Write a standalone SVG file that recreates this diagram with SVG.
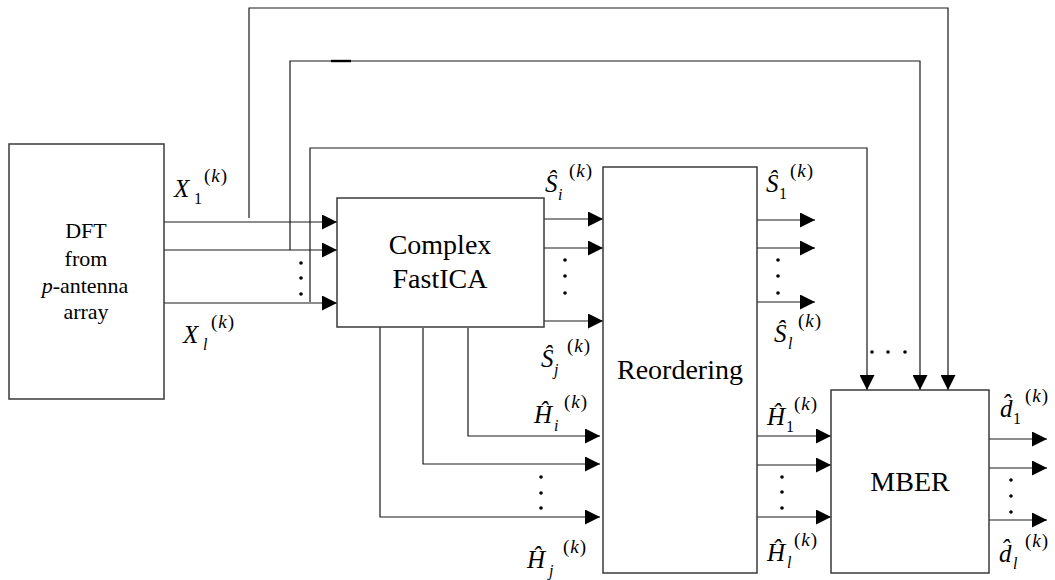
<svg xmlns="http://www.w3.org/2000/svg" width="1055" height="580" viewBox="0 0 1055 580" font-family="'Liberation Serif', 'Times New Roman', 'DejaVu Serif', serif">
<style>
.box{fill:#fff;stroke:#3a3a3a;stroke-width:1.5}
.ln{fill:none;stroke:#1a1a1a;stroke-width:1.2}
.dot{fill:#000}
text{font-family:'Liberation Serif','Times New Roman','DejaVu Serif',serif;fill:#000}
.big{font-size:28px}
.mid{font-size:22px}
.b{font-size:25px;font-style:italic}
.s{font-size:16px}
.p{font-size:19px;letter-spacing:1px}
.it{font-style:italic}
</style>
<defs>
<marker id="ah" markerUnits="userSpaceOnUse" markerWidth="15" markerHeight="15" viewBox="0 0 15 15" refX="15" refY="7.5" orient="auto">
<path d="M0,0 L15,7.5 L0,15 z" fill="#000"/>
</marker>
</defs>

<g id="connectors">
<path class="ln" d="M164,222 H337" marker-end="url(#ah)"/>
<path class="ln" d="M164,250 H337" marker-end="url(#ah)"/>
<path class="ln" d="M164,303 H337" marker-end="url(#ah)"/>
<path class="ln" d="M249,218 V8 H948 V390" marker-end="url(#ah)"/>
<path class="ln" d="M290,250 V61 H920 V390" marker-end="url(#ah)"/>
<path class="ln" d="M310,302 V148 H867 V390" marker-end="url(#ah)"/>
<line x1="331" y1="61" x2="351" y2="61" stroke="#000" stroke-width="2.4"/>
<path class="ln" d="M544,219 H603" marker-end="url(#ah)"/>
<path class="ln" d="M544,248 H603" marker-end="url(#ah)"/>
<path class="ln" d="M544,321 H603" marker-end="url(#ah)"/>
<path class="ln" d="M468,328 V436 H600" marker-end="url(#ah)"/>
<path class="ln" d="M423,328 V464 H600" marker-end="url(#ah)"/>
<path class="ln" d="M380,327 V517 H600" marker-end="url(#ah)"/>
<path class="ln" d="M757,220 H815" marker-end="url(#ah)"/>
<path class="ln" d="M757,248 H815" marker-end="url(#ah)"/>
<path class="ln" d="M757,302 H815" marker-end="url(#ah)"/>
<path class="ln" d="M757,436 H831" marker-end="url(#ah)"/>
<path class="ln" d="M757,465 H831" marker-end="url(#ah)"/>
<path class="ln" d="M757,517 H831" marker-end="url(#ah)"/>
<path class="ln" d="M989,439 H1047" marker-end="url(#ah)"/>
<path class="ln" d="M989,468 H1047" marker-end="url(#ah)"/>
<path class="ln" d="M989,520 H1047" marker-end="url(#ah)"/>
</g>

<g id="dots">
<circle class="dot" cx="301" cy="263" r="1.8"/><circle class="dot" cx="301" cy="278" r="1.8"/><circle class="dot" cx="301" cy="294" r="1.8"/>
<circle class="dot" cx="565" cy="260" r="1.8"/><circle class="dot" cx="565" cy="276" r="1.8"/><circle class="dot" cx="565" cy="293" r="1.8"/>
<circle class="dot" cx="541" cy="477" r="1.8"/><circle class="dot" cx="541" cy="493" r="1.8"/><circle class="dot" cx="541" cy="508" r="1.8"/>
<circle class="dot" cx="778" cy="260" r="1.8"/><circle class="dot" cx="778" cy="276" r="1.8"/><circle class="dot" cx="778" cy="293" r="1.8"/>
<circle class="dot" cx="782" cy="477" r="1.8"/><circle class="dot" cx="782" cy="492" r="1.8"/><circle class="dot" cx="782" cy="508" r="1.8"/>
<circle class="dot" cx="1011" cy="480" r="1.8"/><circle class="dot" cx="1011" cy="496" r="1.8"/><circle class="dot" cx="1011" cy="512" r="1.8"/>
<circle class="dot" cx="872" cy="352" r="1.8"/><circle class="dot" cx="888" cy="352" r="1.8"/><circle class="dot" cx="905" cy="352" r="1.8"/>
</g>

<g id="dft">
<rect class="box" x="9" y="144" width="155" height="255"/>
<text class="mid" text-anchor="middle" x="86" y="238">DFT</text>
<text class="mid" text-anchor="middle" x="86" y="266">from</text>
<text class="mid" text-anchor="middle" x="85" y="293"><tspan class="it">p</tspan>-antenna</text>
<text class="mid" text-anchor="middle" x="86" y="319">array</text>
</g>

<g id="fastica">
<rect class="box" x="337" y="198" width="207" height="129"/>
<text class="big" text-anchor="middle" x="440" y="254">Complex</text>
<text class="big" text-anchor="middle" x="440" y="288">FastICA</text>
</g>

<g id="reordering">
<rect class="box" x="603" y="167" width="154" height="406"/>
<text class="big" text-anchor="middle" x="680" y="379">Reordering</text>
</g>

<g id="mber">
<rect class="box" x="831" y="390" width="158" height="183"/>
<text class="big" text-anchor="middle" x="910" y="491">MBER</text>
</g>

<g id="labels">
<g id="lbl-X1">
<text class="b" x="174" y="197">X</text>
<text class="s" x="194" y="204">1</text>
<text class="p" x="204" y="182">(<tspan class="it">k</tspan>)</text>
</g>
<g id="lbl-Xl">
<text class="b" x="183" y="343">X</text>
<text class="s it" x="203" y="350">l</text>
<text class="p" x="211" y="328">(<tspan class="it">k</tspan>)</text>
</g>
<g id="lbl-Si">
<text class="b" x="545" y="192">Ŝ</text>
<text class="s it" x="558" y="200">i</text>
<text class="p" x="569" y="177">(<tspan class="it">k</tspan>)</text>
</g>
<g id="lbl-Sj">
<text class="b" x="541" y="367">Ŝ</text>
<text class="s it" x="554" y="375">j</text>
<text class="p" x="567" y="352">(<tspan class="it">k</tspan>)</text>
</g>
<g id="lbl-Hi">
<text class="b" x="534" y="423">Ĥ</text>
<text class="s it" x="554" y="431">i</text>
<text class="p" x="564" y="408">(<tspan class="it">k</tspan>)</text>
</g>
<g id="lbl-Hj">
<text class="b" x="527" y="568">Ĥ</text>
<text class="s it" x="549" y="576">j</text>
<text class="p" x="563" y="553">(<tspan class="it">k</tspan>)</text>
</g>
<g id="lbl-S1">
<text class="b" x="766" y="192">Ŝ</text>
<text class="s" x="779" y="199">1</text>
<text class="p" x="790" y="177">(<tspan class="it">k</tspan>)</text>
</g>
<g id="lbl-Sl">
<text class="b" x="774" y="342">Ŝ</text>
<text class="s it" x="788" y="349">l</text>
<text class="p" x="798" y="327">(<tspan class="it">k</tspan>)</text>
</g>
<g id="lbl-H1">
<text class="b" x="767" y="425">Ĥ</text>
<text class="s" x="786" y="432">1</text>
<text class="p" x="794" y="410">(<tspan class="it">k</tspan>)</text>
</g>
<g id="lbl-Hl">
<text class="b" x="767" y="561">Ĥ</text>
<text class="s it" x="787" y="568">l</text>
<text class="p" x="794" y="546">(<tspan class="it">k</tspan>)</text>
</g>
<g id="lbl-d1">
<text class="b" x="1000" y="417">d̂</text>
<text class="s" x="1013" y="424">1</text>
<text class="p" x="1025" y="402">(<tspan class="it">k</tspan>)</text>
</g>
<g id="lbl-dl">
<text class="b" x="999" y="562">d̂</text>
<text class="s it" x="1013" y="569">l</text>
<text class="p" x="1025" y="547">(<tspan class="it">k</tspan>)</text>
</g>
</g>
</svg>
